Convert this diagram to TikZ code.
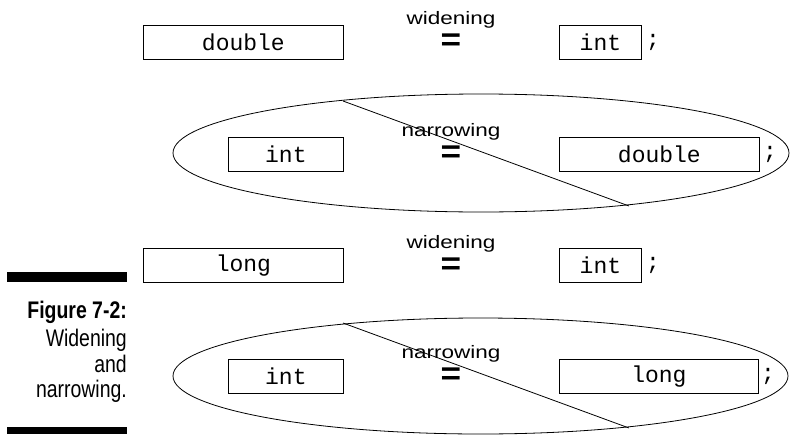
\documentclass[tikz,border=0pt]{standalone}
\usepackage{fontspec}
\newfontfamily\lblfont{Liberation Sans}[FakeStretch=1.25]
\newfontfamily\capfont{Liberation Sans}[FakeStretch=0.81]
\newfontfamily\capbfont{Liberation Sans Bold}[FakeStretch=0.81]
\newfontfamily\eqfont{Liberation Sans Bold}[FakeStretch=1.1]
\newfontfamily\codefont{Liberation Mono}
\tikzset{
  typebox/.style={draw, line width=0.8pt, minimum height=34pt, inner sep=0pt, anchor=north west, font=\codefont\fontsize{23}{23}\selectfont},
  semi/.style={font=\codefont\fontsize{23}{23}\selectfont},
  lbl/.style={anchor=base, inner sep=0pt, font=\lblfont\fontsize{18}{18}\selectfont},
  eqsign/.style={inner sep=0pt, font=\eqfont\fontsize{32}{32}\selectfont},
  caption/.style={anchor=base east, inner sep=0pt, font=\capfont\fontsize{24}{24}\selectfont}
}
\begin{document}
\begin{tikzpicture}[x=1pt,y=1pt]
     \useasboundingbox (0,0) rectangle (790,-434);
     % widening: double = int
     \node[typebox, minimum width=200pt] (dbl1) at (143,-25){double};
     \node[lbl] (wid1) at (451,-24){widening};
     \node[eqsign] (eq1) at (451,-42){=};
     \node[typebox, minimum width=82pt] (int1) at (559,-25){int};
     \node[semi] (semi1) at (653,-42){;};
     % narrowing: int = double
     \draw[line width=0.8pt] (481,-153) ellipse [x radius=308, y radius=59];
     \node[typebox, minimum width=115pt] (int2) at (228,-137){int};
     \node[lbl] (nar1) at (451,-136){narrowing};
     \node[eqsign] (eq2) at (451,-154){=};
     \node[typebox, minimum width=200pt] (dbl2) at (559,-137){double};
     \node[semi] (semi2) at (770,-154){;};
     \coordinate (cutA) at (343,-101);
     \coordinate (cutB) at (629,-206);
     \draw[line width=0.8pt] (cutA) -- (cutB);
     % widening: long = int
     \node[typebox, minimum width=200pt] (lng1) at (143,-248){long};
     \node[lbl] (wid2) at (451,-248){widening};
     \node[eqsign] (eq3) at (451,-266){=};
     \node[typebox, minimum width=82pt] (int3) at (559,-248){int};
     \node[semi] (semi3) at (653,-265){;};
     % narrowing: int = long
     \draw[line width=0.8pt] (480.5,-376) ellipse [x radius=307.5, y radius=58];
     \node[typebox, minimum width=115pt] (int4) at (228,-359){int};
     \node[lbl] (nar2) at (451,-358){narrowing};
     \node[eqsign] (eq4) at (451,-376){=};
     \node[typebox, minimum width=199pt] (lng2) at (559,-359){long};
     \node[semi] (semi4) at (768,-376){;};
     \coordinate (cutC) at (343,-323);
     \coordinate (cutD) at (629,-428);
     \draw[line width=0.8pt] (cutC) -- (cutD);
     % caption
     \fill (7,-272) rectangle (127,-282);
     \fill (7,-427) rectangle (127,-434);
     \node[caption] (cap1) at (127,-318){\capbfont Figure 7-2:};
     \node[caption] (cap2) at (127,-346){Widening};
     \node[caption] (cap3) at (127,-372){and};
     \node[caption] (cap4) at (127,-397){narrowing.};
\end{tikzpicture}
\end{document}
